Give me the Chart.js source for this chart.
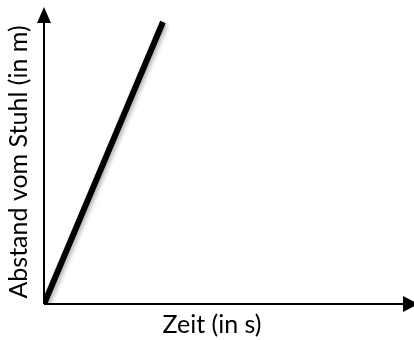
<!DOCTYPE html>
<html>
<head>
<meta charset="utf-8">
<script src="https://cdn.jsdelivr.net/npm/chart.js@4/dist/chart.umd.min.js"></script>
<style>
  html, body { margin: 0; padding: 0; background: #ffffff; }
  #box { width: 414px; height: 340px; }
</style>
</head>
<body>
<div id="box"><canvas id="chart"></canvas></div>
<script>
// values
const times = [0, 3.54];
const distances = [0, 9.93];
const xTitle = "Zeit (in s)";
const yTitle = "Abstand vom Stuhl (in m)";

//axes with arrow heads, drawn under the line
//the arrows run past the plot area, up to the canvas edges
const arrowAxes = {
  id: "arrowAxes",
  beforeDatasetsDraw(chart) {
    const { ctx } = chart;
    const x0 = chart.scales.x.getPixelForValue(0);
    const y0 = chart.scales.y.getPixelForValue(0);
    ctx.save();
    ctx.strokeStyle = "#000";
    ctx.fillStyle = "#000";
    ctx.lineWidth = 2;
    //x axis
    const xTip = chart.width + 4;
    ctx.beginPath();
    ctx.moveTo(x0, y0);
    ctx.lineTo(xTip - 12, y0);
    ctx.stroke();
    ctx.beginPath();
    ctx.moveTo(xTip, y0);
    ctx.lineTo(xTip - 15, y0 - 8);
    ctx.lineTo(xTip - 15, y0 + 8);
    ctx.closePath();
    ctx.fill();
    //y axis
    const yTip = 7;
    ctx.beginPath();
    ctx.moveTo(x0, y0);
    ctx.lineTo(x0, yTip + 12);
    ctx.stroke();
    ctx.beginPath();
    ctx.moveTo(x0, yTip);
    ctx.lineTo(x0 - 7, yTip + 16);
    ctx.lineTo(x0 + 7, yTip + 16);
    ctx.closePath();
    ctx.fill();
    ctx.restore();
  },
  //soft shadow under the thick line
  beforeDatasetDraw(chart) {
    const ctx = chart.ctx;
    ctx.save();
    ctx.shadowColor = "rgba(0,0,0,0.3)";
    ctx.shadowBlur = 4;
    ctx.shadowOffsetX = 2;
    ctx.shadowOffsetY = 2;
  },
  afterDatasetDraw(chart) {
    chart.ctx.restore();
  },
};

const titleFont = { family: "Lato", size: 25, lineHeight: 1 };

new Chart(document.getElementById("chart"), {
  type: "line",
  plugins: [arrowAxes],
  data: {
    datasets: [
      {
        data: times.map((t, i) => ({ x: t, y: distances[i] })),
        borderColor: "#000",
        borderWidth: 6,
        borderCapStyle: "butt",
        pointRadius: 0,
        fill: false,
      },
    ],
  },
  options: {
    responsive: true,
    maintainAspectRatio: false,
    animation: false,
    layout: { padding: { top: 20, right: 34, left: 0, bottom: 0 } },
    plugins: {
      legend: { display: false },
      tooltip: { enabled: false },
    },
    scales: {
      x: {
        type: "linear",
        min: 0,
        max: 10,
        ticks: { display: false },
        grid: { display: false, drawTicks: false },
        border: { display: false },
        title: {
          display: true,
          text: xTitle,
          color: "#000",
          font: titleFont,
          padding: { top: 8.5, bottom: 2.5 },
        },
      },
      y: {
        type: "linear",
        min: 0,
        max: 10,
        ticks: { display: false },
        grid: { display: false, drawTicks: false },
        border: { display: false },
        title: {
          display: true,
          text: yTitle,
          color: "#000",
          font: titleFont,
          padding: { top: 6, bottom: 13 },
        },
      },
    },
  },
});
</script>
</body>
</html>
